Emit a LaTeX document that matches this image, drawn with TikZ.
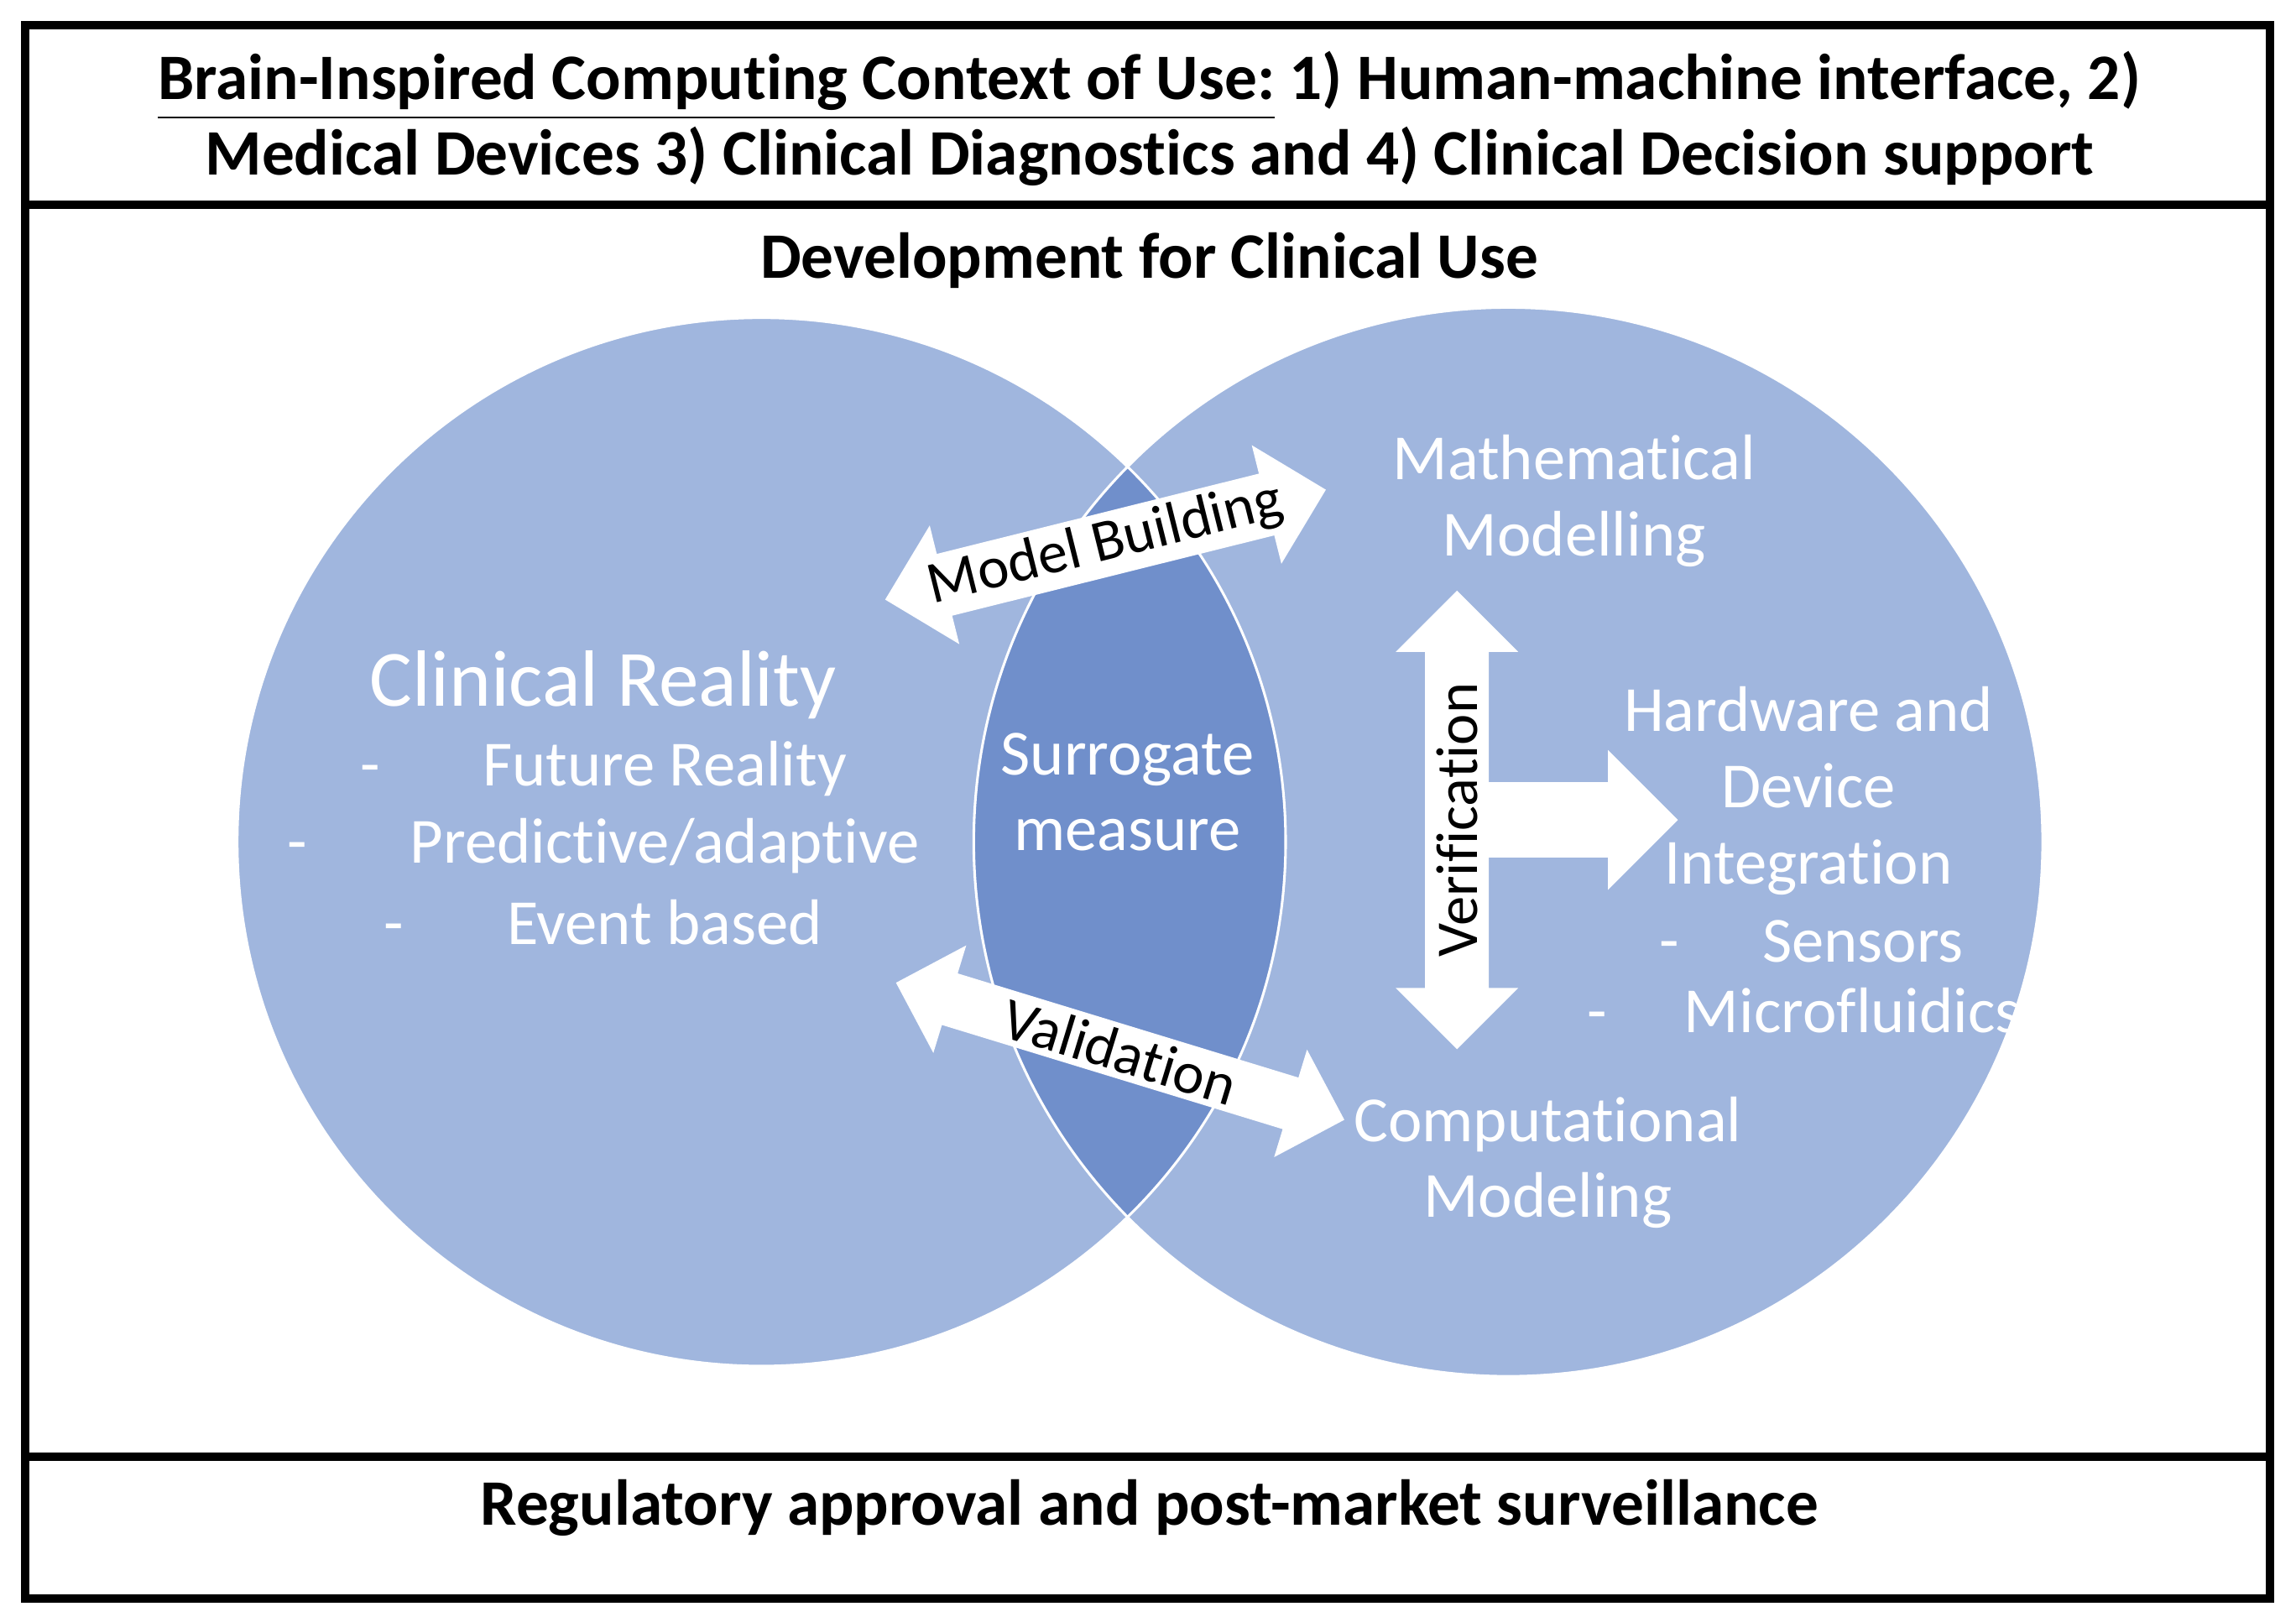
\documentclass[tikz,border=0pt]{standalone}
\usepackage{fontspec}
\setmainfont{Carlito}[Ligatures=NoCommon]
\usetikzlibrary{shapes.arrows}
\definecolor{venn}{RGB}{160,182,222}
\definecolor{lens}{RGB}{112,143,203}
\tikzset{
    hdr/.style={font=\fontsize{12.6}{14.8}\selectfont\bfseries,align=center},
    wht/.style={text=white,font=\fontsize{12.5}{14.8}\selectfont,align=center},
    dblarr/.style={double arrow,fill=white,inner sep=1pt,double arrow head extend=0.2cm,font=\fontsize{11.5}{13}\selectfont},
    dashitem/.style={wht,align=left}
}
\begin{document}
\begin{tikzpicture}[x=0.01cm,y=-0.01cm]
        \useasboundingbox (0,0) rectangle (1568,1104);
        %---
        \draw[line width=1.6pt] (17,17) rectangle (1550,1092);
        \draw[line width=1.6pt] (17,140) -- (1550,140);
        \draw[line width=1.6pt] (17,995) -- (1550,995);
        \node[hdr] (title) at (785,81) {\underline{Brain-Inspired Computing Context of Use:} 1) Human-machine interface, 2)\\Medical Devices 3) Clinical Diagnostics and 4) Clinical Decision support};
        \node[hdr] (dev) at (785,178) {Development for Clinical Use};
        \node[hdr] (reg) at (785,1030) {Regulatory approval and post-market surveillance};

        %--- venn
        \fill[venn] (520,575) circle (358) (1030,575) circle (365);
        \begin{scope}
            \clip (520,575) circle (358);
            \fill[lens] (1030,575) circle (365);
        \end{scope}
        \draw[white,line width=0.5pt] (520,575) circle (358) (1030,575) circle (365);

        \node[wht,font=\fontsize{15.5}{17}\selectfont] (clin) at (412,468) {Clinical Reality};
        \node[dashitem] (fut) at (412,525) {-\hspace{1.6em}Future Reality};
        \node[dashitem] (pred) at (412,578) {-\hspace{1.6em}Predictive/adaptive};
        \node[dashitem] (evt) at (412,630) {-\hspace{1.6em}Event based};
        \node[wht] (sur) at (770,541) {Surrogate\\measure};
        \node[wht] (math) at (1075,342) {Mathematical\\Modelling};
        \node[wht] (hw) at (1235,540) {Hardware and\\Device\\Integration};
        \node[dashitem] (sens) at (1237,643) {-\hspace{1.3em}Sensors};
        \node[dashitem] (micro) at (1232,690) {-\hspace{1.2em}Microfluidics};
        \node[wht] (comp) at (1057,794) {Computational\\Modeling};

        %--- arrows
        \node[dblarr,minimum height=3.1cm,rotate=14] (build) at (755,372) {Model Building};
        \node[dblarr,minimum height=3.2cm,rotate=-17] (valid) at (765,718) {Validation};
        \node[single arrow,fill=white,inner xsep=0pt,inner ysep=0.25cm,single arrow head extend=0.22cm,minimum height=1.3cm] (integ) at (1068,560) {};
        \node[dblarr,minimum height=3.13cm,rotate=90,inner sep=2pt] (verif) at (995,560) {Verification};
\end{tikzpicture}
\end{document}
